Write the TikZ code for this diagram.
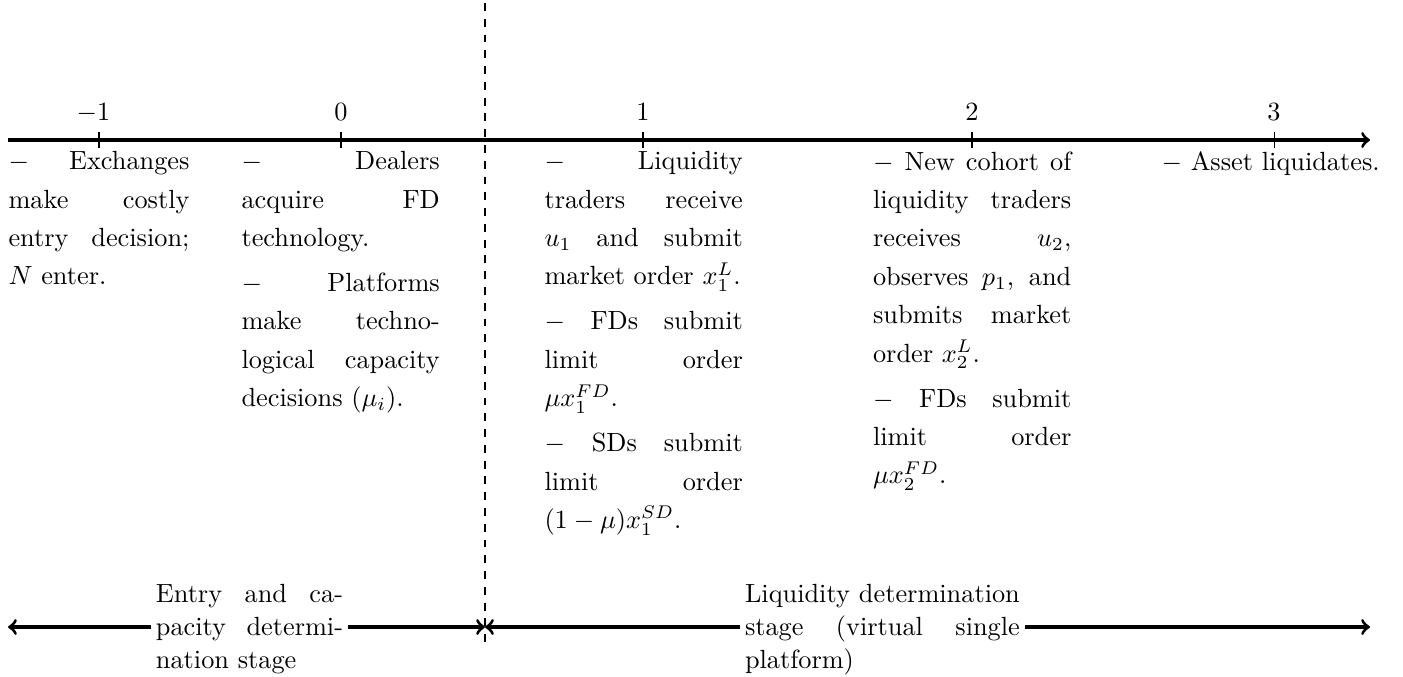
\documentclass[tikz,border=0pt]{standalone}
\begin{document}
\begin{tikzpicture}[x=0.38023pt,y=-0.38023pt,
  axisline/.style={very thick,->},
  stagearrow/.style={very thick,<->},
  divider/.style={thick,dashed},
  tickmark/.style={thin},
  ticklab/.style={anchor=base,inner sep=0pt},
  evt/.style={anchor=north west,inner sep=0pt,align=justify,font=\fontsize{10}{14.6}\selectfont},
  stagelab/.style={anchor=north,fill=white,inner xsep=2pt,inner ysep=0pt,align=justify,font=\fontsize{10}{12.5}\selectfont},
]
\useasboundingbox (0,0) rectangle (1403,676);

% main time line
\coordinate (tlS) at (8,140);
\coordinate (tlE) at (1370,140);
\draw[axisline] (tlS) -- (tlE);

% ticks
\draw[tickmark] (99,132) -- (99,148);
\draw[tickmark] (341,132) -- (341,148);
\draw[tickmark] (643,132) -- (643,148);
\draw[tickmark] (972,132) -- (972,148);
\draw[tickmark] (1274,132) -- (1274,148);

\node[ticklab] (lm1) at (93.5,120) {$-1$};
\node[ticklab] (l0) at (341,120) {$0$};
\node[ticklab] (l1) at (643,120) {$1$};
\node[ticklab] (l2) at (972,120) {$2$};
\node[ticklab] (l3) at (1274,120) {$3$};

% events
\node[evt,text width=68.8pt] (em1) at (8,151)
  {$-$ Exchanges\linebreak make costly\linebreak entry decision;\linebreak $N$ enter.};

\node[evt,text width=75.4pt] (e0) at (241,151)
  {\setlength{\parskip}{2.5pt}$-$ Dealers\linebreak acquire FD\linebreak technology.\par
   $-$ Platforms\linebreak make techno-\linebreak logical capacity\linebreak decisions ($\mu_i$).};

\node[evt,text width=75.4pt] (e1) at (544,151)
  {\setlength{\parskip}{2.5pt}$-$ Liquidity\linebreak traders receive\linebreak $u_1$ and submit\linebreak market~order~$x_1^L$.\par
   $-$ FDs submit\linebreak limit order\linebreak $\mu x_1^{FD}$.\par
   $-$ SDs submit\linebreak limit order\linebreak $(1-\mu)x_1^{SD}$.};

\node[evt,text width=75.4pt] (e2) at (872.5,151)
  {\setlength{\parskip}{2.5pt}$-$ New cohort of\linebreak liquidity traders\linebreak receives $u_2$,\linebreak observes $p_1$, and\linebreak submits market\linebreak order $x_2^L$.\par
   $-$ FDs submit\linebreak limit order\linebreak $\mu x_2^{FD}$.};

\node[anchor=north west,inner sep=0pt] (e3) at (1161,151) {$-$ Asset liquidates.};

% stage arrows
\coordinate (bL) at (8,627);
\coordinate (bM) at (485,627);
\coordinate (bR) at (1370,627);
\draw[stagearrow] (bL) -- (bM);
\draw[stagearrow] (bM) -- (bR);

\node[stagelab,text width=2.5cm] (s1) at (249.5,583.5)
  {Entry and ca-\linebreak pacity determi-\linebreak nation stage};
\node[stagelab,text width=104.5pt] (s2) at (882.4,583.5)
  {Liquidity determination\linebreak stage (virtual single\linebreak platform)};

% divider
\coordinate (dvT) at (485,3);
\coordinate (dvB) at (485,642);
\draw[divider] (dvT) -- (dvB);
\end{tikzpicture}
\end{document}
